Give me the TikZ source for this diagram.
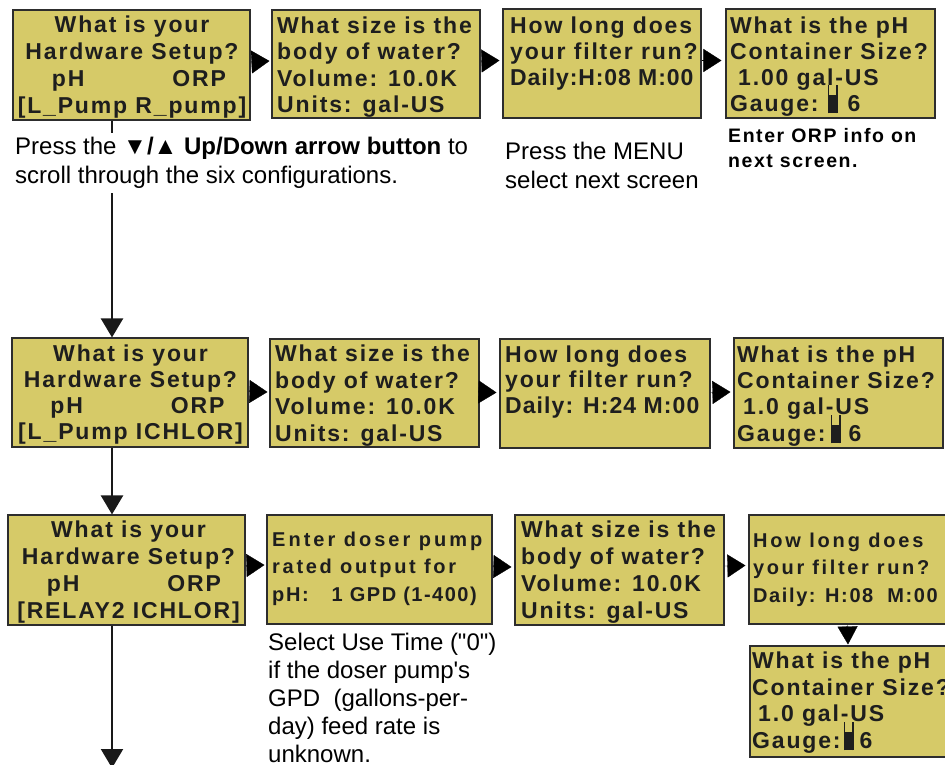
\documentclass[tikz,border=0pt]{standalone}
\usepackage{fontspec}
\newfontfamily\arial{Liberation Sans}
\usetikzlibrary{arrows.meta,calc}
\definecolor{lcdfill}{RGB}{214,202,104}
\definecolor{lcdline}{RGB}{45,45,45}
\definecolor{lcdtext}{RGB}{30,30,30}
\newcommand\lcdfont[2]{\arial\bfseries\fontsize{#1}{#2}\selectfont\addfontfeatures{LetterSpace=8}}
\newcommand\notefont[2]{\arial\fontsize{#1}{#2}\selectfont}
\newcommand\LS[2]{{\addfontfeatures{LetterSpace=#1}#2}}
\newcommand\gaugeicon{\smash{\raisebox{-2pt}{\rlap{\rule{10pt}{18pt}}\rlap{\rule{1.2pt}{28pt}}\rlap{\hspace{8.8pt}\rule{1.2pt}{28pt}}\hspace{10pt}}}}
\begin{document}
\begin{tikzpicture}[x=1pt,y=-1pt,
  lcd/.style={draw=lcdline, line width=1.1pt, fill=lcdfill, inner sep=0pt},
  lcdtxt/.style={inner sep=0pt, text=lcdtext, align=left, anchor=north west},
  note/.style={inner sep=0pt, text=black, align=left, anchor=north west},
  hconn/.style={line width=0.3pt, black, -{Triangle[length=18pt,width=23pt]}},
  dconn/.style={line width=0.3pt, black, -{Triangle[length=18pt,width=20pt]}},
  vconn/.style={line width=2.2pt, black!90, -{Triangle[length=19pt,width=22pt]}}]
\useasboundingbox (0,0) rectangle (945,765);
% ---- boxes
\node[lcd, minimum width=237pt, minimum height=110pt] (b1) at (131.5,65) {};
\node[lcd, minimum width=208pt, minimum height=108pt] (b2) at (376,64) {};
\node[lcd, minimum width=198pt, minimum height=109pt] (b3) at (602,63.5) {};
\node[lcd, minimum width=209pt, minimum height=109pt] (b4) at (830.5,63.5) {};
\node[lcd, minimum width=236pt, minimum height=109pt] (m1) at (130,392.5) {};
\node[lcd, minimum width=209pt, minimum height=108pt] (m2) at (374.5,393) {};
\node[lcd, minimum width=210pt, minimum height=109pt] (m3) at (605,393.5) {};
\node[lcd, minimum width=209pt, minimum height=110pt] (m4) at (838.5,393) {};
\node[lcd, minimum width=237pt, minimum height=110pt] (l1) at (126.5,570) {};
\node[lcd, minimum width=225pt, minimum height=109pt] (l2) at (379.5,569.5) {};
\node[lcd, minimum width=209pt, minimum height=110pt] (l3) at (619.5,570) {};
\node[lcd, minimum width=203pt, minimum height=109pt] (l4) at (850.5,569.5) {};
\node[lcd, minimum width=202pt, minimum height=111pt] (l5) at (851,701.5) {};
% ---- box texts
\node[lcdtxt, align=center, anchor=north, font=\lcdfont{23}{27}] (b1t) at (132,15.2)
  {What is your\\Hardware Setup?\\\hspace*{14pt}pH\hspace{88pt}ORP\\{[}L\_Pump R\_pump]};
\node[lcdtxt, font=\lcdfont{23}{26.5}] (b2t) at (277,16.5)
  {What size is the\\body of water?\\Volume: 10.0K\\Units: gal-US};
\node[lcdtxt, font=\lcdfont{23}{26}] (b3t) at (510,16.5)
  {How long does\\your filter run?\\\LS{4}{Daily:H:08 M:00}};
\node[lcdtxt, font=\lcdfont{23}{26}] (b4t) at (730,16.5)
  {What is the pH\\Container Size?\\\hspace*{8pt}1.00 gal-US\\Gauge:\hspace{9pt}\gaugeicon\hspace{10pt}6};
\node[lcdtxt, align=center, anchor=north, font=\lcdfont{23}{26}] (m1t) at (130.5,344.5)
  {What is your\\Hardware Setup?\\\hspace*{14pt}pH\hspace{88pt}ORP\\{[}L\_Pump ICHLOR]};
\node[lcdtxt, font=\lcdfont{23}{26.7}] (m2t) at (275,344.5)
  {What size is the\\body of water?\\Volume: 10.0K\\Units: gal-US};
\node[lcdtxt, font=\lcdfont{23}{25.5}] (m3t) at (505,345.5)
  {How long does\\your filter run?\\\LS{4.7}{Daily: H:24 M:00}};
\node[lcdtxt, font=\lcdfont{23}{26.3}] (m4t) at (737,345.5)
  {What is the pH\\Container Size?\\\hspace*{6pt}1.0 gal-US\\Gauge:\hspace{5pt}\gaugeicon\hspace{8pt}6};
\node[lcdtxt, align=center, anchor=north, font=\lcdfont{23}{27}] (l1t) at (128.5,520.5)
  {What is your\\Hardware Setup?\\\hspace*{11pt}pH\hspace{88pt}ORP\\{[}RELAY2 ICHLOR]};
\node[lcdtxt, font=\lcdfont{20}{27.5}] (l2t) at (272,531.7)
  {\LS{15}{Enter doser pump}\\\LS{13.5}{rated output for}\\\LS{8}{pH:}\hspace{23pt}\LS{7.5}{1 GPD (1-400)}};
\node[lcdtxt, font=\lcdfont{23}{27}] (l3t) at (521,520.5)
  {What size is the\\body of water?\\Volume: 10.0K\\Units: gal-US};
\node[lcdtxt, font=\lcdfont{20}{27.5}] (l4t) at (753,532.7)
  {\LS{14}{How long does}\\\LS{13}{your filter run?}\\\LS{8}{Daily: H:08\hspace{14pt}M:00}};
\node[lcdtxt, font=\lcdfont{23}{26.7}] (l5t) at (752,651.5)
  {What is the pH\\Container Size?\\\hspace*{6pt}1.0 gal-US\\Gauge:\hspace{3pt}\gaugeicon\hspace{6pt}6};
% ---- connectors
\coordinate (vx) at (112,0);
\coordinate (vend) at (112,768);
\draw[vconn] (b1.south -| vx) -- (m1.north -| vx);
\draw[vconn] (m1.south -| vx) -- (l1.north -| vx);
\draw[vconn] (l1.south -| vx) -- (vend);
\draw[hconn] ([yshift=3pt]b1.east) -- ([xshift=-2pt,yshift=3pt]b2.west);
\draw[hconn] ([yshift=3pt]b2.east) -- ([xshift=-3pt,yshift=3pt]b3.west);
\draw[hconn] ([yshift=3pt]b3.east) -- ([xshift=-4pt,yshift=3pt]b4.west);
\draw[hconn] ([yshift=1pt]m1.east) -- ([xshift=-2pt,yshift=1pt]m2.west);
\draw[hconn] ([yshift=1pt]m2.east) -- ([xshift=-3pt,yshift=1pt]m3.west);
\draw[hconn] ([yshift=1pt]m3.east) -- ([xshift=-3pt,yshift=1pt]m4.west);
\draw[hconn] ([yshift=4.5pt]l1.east) -- ([xshift=-2pt,yshift=4.5pt]l2.west);
\draw[hconn] ([yshift=3pt]l2.east) -- ([xshift=-3pt,yshift=3pt]l3.west);
\draw[hconn] ([yshift=4pt]l3.east) -- ([xshift=-3pt,yshift=4pt]l4.west);
\draw[dconn] ([xshift=-3pt]l4.south) -- ([xshift=-3pt,yshift=1pt]l5.north);
% ---- notes
\node[note, fill=white, inner xsep=2pt, inner ysep=4pt, font=\notefont{24}{29}] (t1) at (13,133)
  {Press the {\bfseries ▼/▲ Up/Down arrow button} to\\scroll through the six configurations.};
\node[note, font=\notefont{24}{29}] (t2) at (505,141.8)
  {Press the MENU\\select next screen};
\node[note, font={\arial\bfseries\fontsize{19.5}{25}\selectfont\addfontfeatures{LetterSpace=8}}] (t3) at (728,128)
  {Enter ORP info on\\next screen.};
\node[note, font=\notefont{24}{28}] (t4) at (268,632.8)
  {Select Use Time ("0")\\if the doser pump's\\GPD\ \ (gallons-per-\\day) feed rate is\\unknown.};
\end{tikzpicture}
\end{document}
